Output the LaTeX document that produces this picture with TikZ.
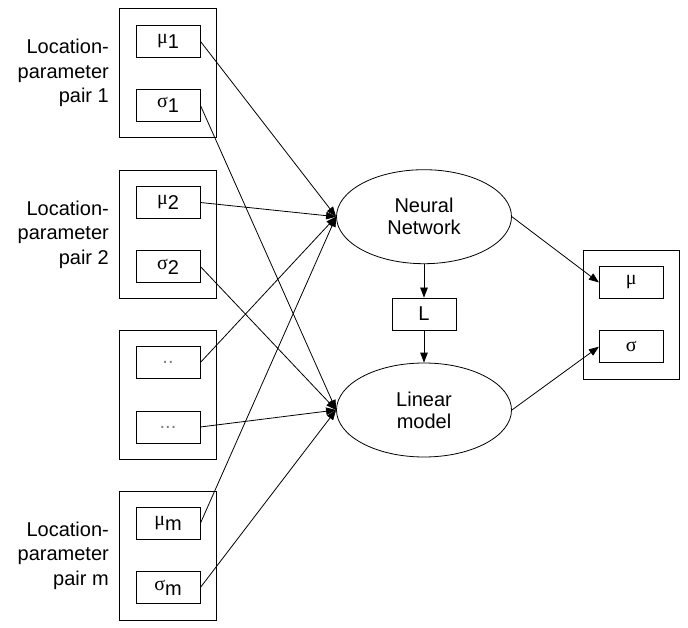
\documentclass[tikz,border=0pt]{standalone}
\usepackage{fontspec}
\setmainfont{Liberation Sans}
\newfontfamily\greekfont{Liberation Serif}
\usetikzlibrary{shapes.geometric, positioning, fit, arrows.meta}

\newcommand{\gsub}[2]{{\greekfont #1}\raisebox{-5pt}{#2}}

\tikzset{
	pbox/.style = {draw, minimum width = 64pt, minimum height = 32pt, inner sep = 0pt},
	cluster/.style = {draw, inner xsep = 16pt, inner ysep = 16pt},
	model/.style = {draw, ellipse, minimum width = 175pt, minimum height = 94pt, inner sep = 0pt, align = center,
		font = \fontsize{20}{22}\selectfont},
	lbl/.style = {align = right, inner sep = 0pt, font = \fontsize{20}{24.5}\selectfont},
	edge/.style = {-{Triangle[length = 10pt, width = 7.5pt]}}
}

\begin{document}
\begin{tikzpicture}[x = 1pt, y = -1pt, line width = 0.8pt, font = \fontsize{20}{24}\selectfont]
	\useasboundingbox (0, 0) rectangle (688, 628);
	% parameter pairs
	\node[pbox] (mu1) at (168, 41.3) {\gsub{μ}{1}};
	\node[pbox] (sig1) at (168, 105.3) {\gsub{σ}{1}};
	\node[pbox] (mu2) at (168, 202.5) {\gsub{μ}{2}};
	\node[pbox] (sig2) at (168, 266.5) {\gsub{σ}{2}};
	\node[pbox, text = gray] (dot1) at (168, 362.5) {..};
	\node[pbox, text = gray] (dot2) at (168, 427) {...};
	\node[pbox] (mum) at (168, 523.3) {\gsub{μ}{m}};
	\node[pbox] (sigm) at (168, 587.5) {\gsub{σ}{m}};
	\node[cluster, fit = (mu1) (sig1)] (c1) {};
	\node[cluster, fit = (mu2) (sig2)] (c2) {};
	\node[cluster, fit = (dot1) (dot2)] (c3) {};
	\node[cluster, fit = (mum) (sigm)] (cm) {};
	% labels
	\node[lbl, left = 10pt of c1] {Location-\\parameter\\pair 1};
	\node[lbl, left = 10pt of c2] {Location-\\parameter\\pair 2};
	\node[lbl, left = 10pt of cm] {Location-\\parameter\\pair m};
	% models
	\node[model] (nn) at (424, 216.7) {Neural\\Network};
	\node[model] (lm) at (424, 410) {Linear\\model};
	\node[pbox] (L) at (424, 314) {L};
	% output
	\node[pbox] (mu) at (631.3, 282.5) {{\greekfont μ}};
	\node[pbox] (sig) at (631.3, 346.7) {{\greekfont σ}};
	\node[cluster, fit = (mu) (sig)] (cout) {};
	% edges
	\foreach \p in {mu1, mu2, dot1, mum}
		\draw[edge] (\p.east) -- (nn.west);
	\foreach \p in {sig1, sig2, dot2, sigm}
		\draw[edge] (\p.east) -- (lm.west);
	\draw[edge] (nn.south) -- (L.north);
	\draw[edge] (L.south) -- (lm.north);
	\draw[edge] (nn.east) -- (mu.west);
	\draw[edge] (lm.east) -- (sig.west);
\end{tikzpicture}
\end{document}
